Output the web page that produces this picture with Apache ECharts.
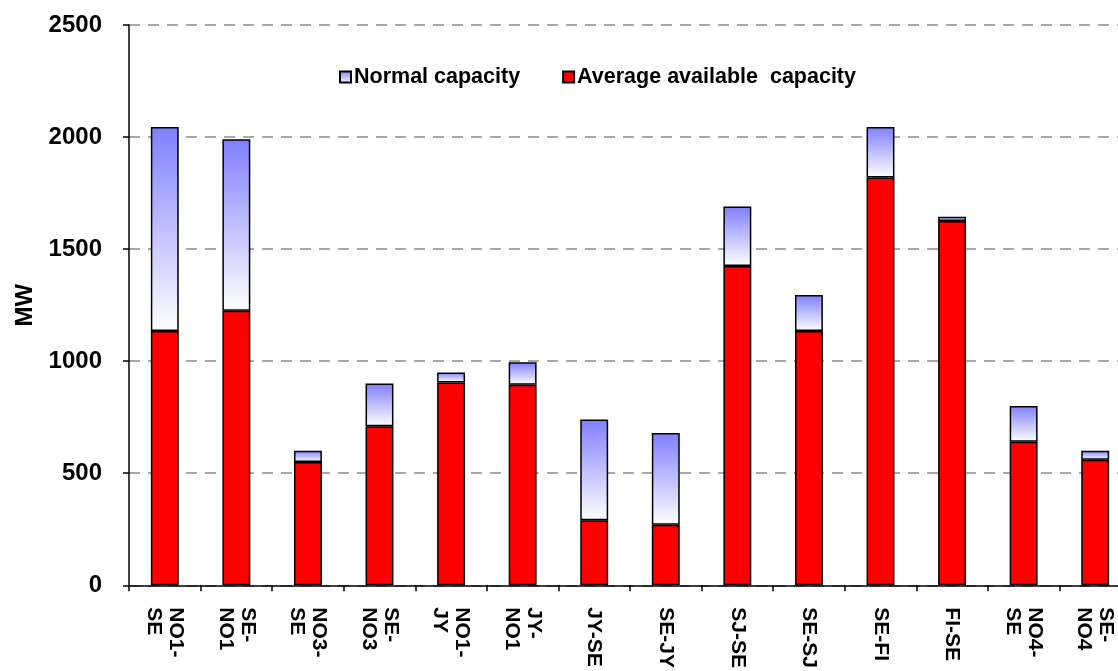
<!DOCTYPE html>
<html>
<head>
<meta charset="utf-8">
<script src="https://cdn.jsdelivr.net/npm/echarts@6/dist/echarts.min.js"></script>
<style>
html,body{margin:0;padding:0;background:#fff;overflow:hidden;width:1118px;height:671px;}
#chart{width:1131px;height:671px;}
</style>
</head>
<body>
<div id="chart"></div>
<script>
const categories = ['NO1-\nSE','SE-\nNO1','NO3-\nSE','SE-\nNO3','NO1-\nJY','JY-\nNO1','JY-SE','SE-JY','SJ-SE','SE-SJ','SE-FI','FI-SE','NO4-\nSE','SE-\nNO4'];
const normalCapacity = [2045, 1990, 600, 900, 950, 995, 740, 680, 1690, 1295, 2045, 1645, 800, 600];
const avgAvailable = [1135, 1225, 550, 710, 905, 895, 290, 270, 1425, 1135, 1820, 1625, 640, 560];
const yTicks = [0, 500, 1000, 1500, 2000, 2500];

// visible upper part of the normal-capacity bar (stacked above the red bar)
const normalAbove = normalCapacity.map((v, i) => v - avgAvailable[i]);

const FONT = '"Liberation Sans", Arial, sans-serif';
const chart = echarts.init(document.getElementById('chart'));
chart.setOption({
  animation: false,
  textStyle: {fontFamily: FONT},
  grid: {left: 129, right: 0, top: 25, bottom: 80, containLabel: false},
  legend: {
    left: 334, top: 61,
    icon: 'rect',
    itemWidth: 11, itemHeight: 11, itemGap: 42,
    textStyle: {fontFamily: FONT, fontWeight: 'bold', fontSize: 21.5, color: '#000', padding: [0,0,0,-2]},
    data: ['Normal capacity', 'Average available  capacity']
  },
  xAxis: {
    type: 'category',
    data: categories,
    axisLine: {lineStyle: {color: '#000', width: 1.5}},
    axisTick: {show: true, interval: 0, length: 6, lineStyle: {color: '#000', width: 1.5}},
    axisLabel: {interval: 0, rotate: -90, margin: 22, fontFamily: FONT, fontWeight: 'bold', fontSize: 21, color: '#000', lineHeight: 22}
  },
  yAxis: {
    type: 'value',
    min: yTicks[0], max: yTicks[yTicks.length-1], interval: 500,
    name: 'MW', nameLocation: 'middle', nameGap: 92, nameRotate: 90,
    nameTextStyle: {fontFamily: FONT, fontWeight: 'bold', fontSize: 24, color: '#000'},
    axisLine: {show: true, lineStyle: {color: '#000', width: 1.5}},
    axisTick: {show: true, length: 6, lineStyle: {color: '#000', width: 1.5}},
    axisLabel: {margin: 27, fontFamily: FONT, fontWeight: 'bold', fontSize: 24, color: '#000', formatter: v => String(v)},
    splitLine: {show: true, lineStyle: {color: '#8c8c8c', width: 1.5, type: [11, 8]}}
  },
  series: [
    {
      name: 'Average available  capacity',
      type: 'bar',
      stack: 'cap',
      data: avgAvailable,
      barWidth: '39%',
      itemStyle: {color: '#ff0000', borderColor: '#000', borderWidth: 1.5}
    },
    {
      name: 'Normal capacity',
      type: 'bar',
      stack: 'cap',
      data: normalAbove,
      barWidth: '39%',
      itemStyle: {
        color: new echarts.graphic.LinearGradient(0, 0, 0, 1, [
          {offset: 0, color: '#7f7fff'},
          {offset: 1, color: '#ffffff'}
        ]),
        borderColor: '#000', borderWidth: 1.5
      }
    }
  ]
});
</script>
</body>
</html>
